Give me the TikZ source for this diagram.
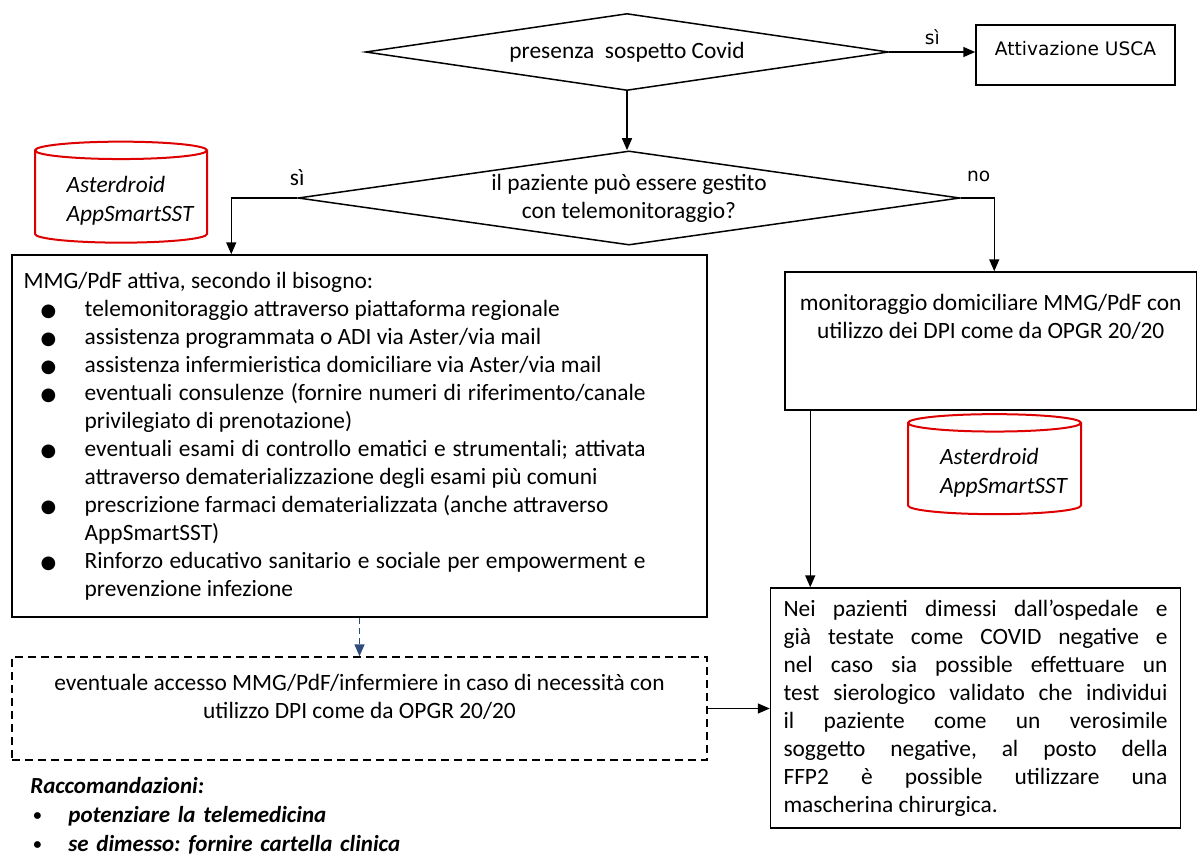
\documentclass[tikz,border=0pt]{standalone}
\usepackage{fontspec}
\setmainfont{Carlito}
\newfontfamily\dejavu{DejaVu Sans}
\usepackage{xcolor}
\usetikzlibrary{arrows.meta, positioning, shapes.geometric}
\frenchspacing

\definecolor{cylred}{RGB}{222,0,0}
\definecolor{dasharr}{RGB}{47,75,124}

% bullet line with hanging indent
\newcommand{\itm}{\par\noindent\hangindent=30.5pt\hangafter=1%
  \makebox[30.5pt][l]{\hspace{8.5pt}{\dejavu\fontsize{9}{9}\selectfont ●}}}
\newcommand{\rit}{\par\noindent\hangindent=19pt\hangafter=1%
  \makebox[19pt][l]{\hspace{1.5pt}\raisebox{1.2pt}{\fontsize{8}{8}\selectfont\textbullet}}}

\begin{document}
\begin{tikzpicture}[x=0.5pt, y=-0.5pt,
    font=\fontsize{11.7}{14}\selectfont,
    box/.style={draw, line width=0.75pt, inner sep=0pt},
    dec/.style={diamond, draw, line width=0.75pt, inner sep=0pt, aspect=6},
    db/.style={cylinder, shape border rotate=90, aspect=0.12, draw=cylred,
      line width=1pt, inner sep=0pt, align=left,
      font=\fontsize{11.7}{14.5}\selectfont\itshape},
    txt/.style={inner sep=0pt},
    lbl/.style={font=\dejavu\fontsize{9.3}{11}\selectfont, inner sep=0pt},
    arr/.style={-{Triangle[length=6pt, width=5pt]}, line width=0.75pt},
  ]
    \useasboundingbox (0,0) rectangle (1198,857);

    \node[dec, minimum width=261.5pt, minimum height=38.5pt] (covid) at (627,52)
      {presenza\ \ sospetto Covid};
    \node[box, minimum width=99.5pt, minimum height=30pt,
      font=\dejavu\fontsize{9.3}{11}\selectfont] (usca) at (1075.5,55)
      {Attivazione USCA\rule[-7pt]{0pt}{7pt}};
    \node[dec, minimum width=331pt, minimum height=43pt, align=center] (tele) at (629,198)
      {il paziente può essere gestito\\con telemonitoraggio?};

    \node[db, minimum width=86pt, minimum height=50.5pt] (app1) at (121,197)
      {\hspace*{9pt}\rule{0pt}{11.8pt}Asterdroid\\\hspace*{9pt}AppSmartSST};
    \node[db, minimum width=86.5pt, minimum height=50pt] (app2) at (994.5,469)
      {\hspace*{9pt}\rule{0pt}{11.8pt}Asterdroid\\\hspace*{9pt}AppSmartSST};

    % left branch
    \node[box, minimum width=347.5pt, minimum height=181pt] (care) at (359.5,436) {};
    \node[txt, text width=311pt, align=justify, right=6pt of care.west] (caretxt)
      {MMG/PdF attiva, secondo il bisogno:
      \itm telemonitoraggio attraverso piattaforma regionale
      \itm assistenza programmata o ADI via Aster/via mail
      \itm assistenza infermieristica domiciliare via Aster/via mail
      \itm eventuali consulenze (fornire numeri di riferimento/canale\linebreak
        privilegiato di prenotazione)
      \itm eventuali esami di controllo ematici e strumentali; attivata\linebreak
        attraverso dematerializzazione degli esami più comuni
      \itm prescrizione farmaci dematerializzata (anche attraverso\\
        AppSmartSST)
      \itm Rinforzo educativo sanitario e sociale per empowerment e\linebreak
        prevenzione infezione\par};

    \node[box, dashed, dash pattern=on 4pt off 2.5pt, minimum width=347.5pt,
      minimum height=51.5pt] (visit) at (359.5,708.5) {};
    \node[txt, align=center, below=9pt of visit.north] (visittxt)
      {eventuale accesso MMG/PdF/infermiere in caso di necessità con\\
      utilizzo DPI come da OPGR 20/20};

    % right branch
    \node[box, minimum width=205.75pt, minimum height=69pt] (home) at (990.75,341) {};
    \node[txt, align=center, below=11.5pt of home.north] (hometxt)
      {monitoraggio domiciliare MMG/PdF con\\utilizzo dei DPI come da OPGR 20/20};

    \node[box, minimum width=204.5pt, minimum height=120pt, inner xsep=6.5pt,
      text width=192pt, align=justify] (mask) at (975.5,708)
      {Nei pazienti dimessi dall’ospedale e\linebreak
      già testate come COVID negative e\linebreak
      nel caso sia possible effettuare un\linebreak
      test sierologico validato che individui\linebreak
      il paziente come un verosimile\linebreak
      soggetto negative, al posto della\linebreak
      FFP2 è possible utilizzare una\linebreak
      mascherina chirurgica.};

    \node[txt, anchor=north west, text width=200pt, align=left,
      font=\fontsize{11.5}{14.5}\selectfont\bfseries\itshape] (advice) at (30,777)
      {Raccomandazioni:
      \rit potenziare la telemedicina
      \rit se dimesso: fornire cartella clinica\par};

    % connectors
    \coordinate (carein) at ([xshift=110pt]care.north west);
    \coordinate (homein) at ([xshift=105pt]home.north west);
    \coordinate (homeout) at ([xshift=13pt]home.south west);

    \draw[arr] (covid.east) -- (covid.east -| usca.west)
      node[lbl, midway, above=3pt] (yes1) {sì};
    \draw[arr] (covid.south) -- (covid.south |- tele.north);
    \draw[arr] (tele.west) -| (carein);
    \draw[arr] (tele.east) -| (homein);
    \draw[arr, dasharr, dashed, dash pattern=on 3pt off 2pt] (care.south) -- (visit.north);
    \draw[arr] (homeout) -- (homeout |- mask.north);
    \draw[arr] (visit.east) -- (visit.east -| mask.west);

    \node[txt, above=6pt of tele.west] (yes2) {sì};
    \node[lbl, above right=8pt and 3pt of tele.east] (no) {no};
  \end{tikzpicture}
\end{document}
